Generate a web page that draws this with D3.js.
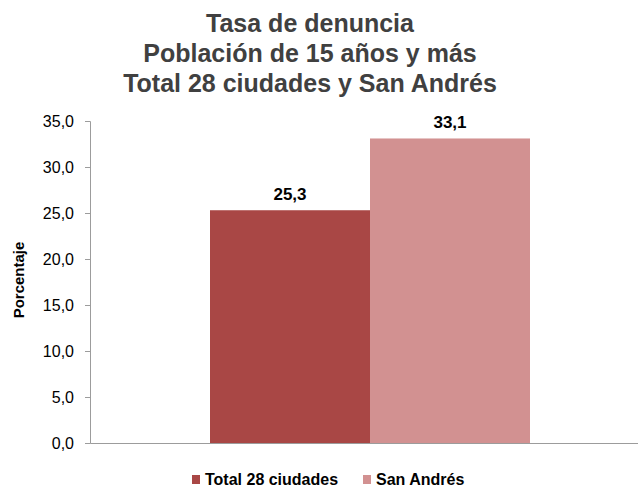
<!DOCTYPE html>
<html>
<head>
<meta charset="utf-8">
<script src="https://cdn.jsdelivr.net/npm/d3@7"></script>
<style>
  body { margin: 0; background: #fff; }
  text { font-family: Arial, "Liberation Sans", sans-serif; }
</style>
</head>
<body>
<div id="wrapper"></div>
<script>
// data
const titleLines = ["Tasa de denuncia", "Población de 15 años y más", "Total 28 ciudades y San Andrés"]
const categories = ["Tasa de denuncia"]
const seriesNames = ["Total 28 ciudades", "San Andrés"]
const seriesValues = [25.3, 33.1]
const seriesColors = ["#a94745", "#d29191"]
const yTicks = [0, 5, 10, 15, 20, 25, 30, 35]
const yLabel = "Porcentaje"

function drawChart() {
  const dimensions = {
    width: 638,
    height: 487,
    margin: { top: 121, right: -12, bottom: 44, left: 90 },
  }
  dimensions.boundedWidth = dimensions.width - dimensions.margin.left - dimensions.margin.right
  dimensions.boundedHeight = dimensions.height - dimensions.margin.top - dimensions.margin.bottom

  const fmt = d => d3.format(".1f")(d).replace(".", ",")

  const svg = d3.select("#wrapper").append("svg")
    .attr("width", dimensions.width)
    .attr("height", dimensions.height)

  // title
  svg.append("text")
    .attr("x", 310)
    .attr("y", 32)
    .attr("text-anchor", "middle")
    .attr("font-size", 25)
    .attr("font-weight", "bold")
    .attr("fill", "#404040")
    .selectAll("tspan")
    .data(titleLines)
    .join("tspan")
      .attr("x", 310)
      .attr("dy", (d, i) => i ? 30 : 0)
      .text(d => d)

  const bounds = svg.append("g")
    .attr("transform", `translate(${dimensions.margin.left},${dimensions.margin.top})`)

  // scales
  const yScale = d3.scaleLinear()
    .domain([0, 35])
    .range([dimensions.boundedHeight, 0])

  const xScale = d3.scaleBand()
    .domain(categories)
    .range([0, dimensions.boundedWidth])
    .paddingInner(0)
    .paddingOuter(0.375)

  const xSub = d3.scaleBand()
    .domain(seriesNames)
    .range([0, xScale.bandwidth()])

  // bars
  const groups = bounds.selectAll(".group")
    .data(categories)
    .join("g")
      .attr("transform", d => `translate(${xScale(d)},0)`)

  const rows = seriesNames.map((name, i) => ({ name, value: seriesValues[i], color: seriesColors[i] }))

  groups.selectAll("rect")
    .data(rows)
    .join("rect")
      .attr("x", d => xSub(d.name))
      .attr("width", xSub.bandwidth())
      .attr("y", d => yScale(d.value))
      .attr("height", d => yScale(0) - yScale(d.value))
      .attr("fill", d => d.color)

  groups.selectAll(".label")
    .data(rows)
    .join("text")
      .attr("class", "label")
      .attr("x", d => xSub(d.name) + xSub.bandwidth() / 2)
      .attr("y", d => yScale(d.value) - 10)
      .attr("text-anchor", "middle")
      .attr("font-size", 17)
      .attr("font-weight", "bold")
      .attr("fill", "#000")
      .text(d => fmt(d.value))

  // axes
  const yAxis = bounds.append("g")
    .call(d3.axisLeft(yScale).tickValues(yTicks).tickFormat(fmt).tickSize(5).tickPadding(11))
  yAxis.selectAll("path, line").attr("stroke", "#9c9c9c")
  yAxis.selectAll("text")
    .attr("font-size", 16)
    .attr("fill", "#000")

  const xAxis = bounds.append("g")
    .attr("transform", `translate(0,${dimensions.boundedHeight})`)
    .call(d3.axisBottom(xScale).tickSize(0).tickFormat(""))
  xAxis.select("path").attr("stroke", "#9c9c9c")

  svg.append("text")
    .attr("transform", "translate(24,280) rotate(-90)")
    .attr("text-anchor", "middle")
    .attr("font-size", 15)
    .attr("font-weight", "bold")
    .attr("fill", "#000")
    .text(yLabel)

  // legend
  const legendX = [192, 363]
  const legend = svg.selectAll(".legend")
    .data(rows)
    .join("g")
      .attr("transform", (d, i) => `translate(${legendX[i]},475)`)
  legend.append("rect")
    .attr("width", 8)
    .attr("height", 9)
    .attr("fill", d => d.color)
  legend.append("text")
    .attr("x", 13)
    .attr("y", 10)
    .attr("font-size", 16)
    .attr("font-weight", "bold")
    .attr("fill", "#000")
    .text(d => d.name)
}
drawChart()
</script>
</body>
</html>
